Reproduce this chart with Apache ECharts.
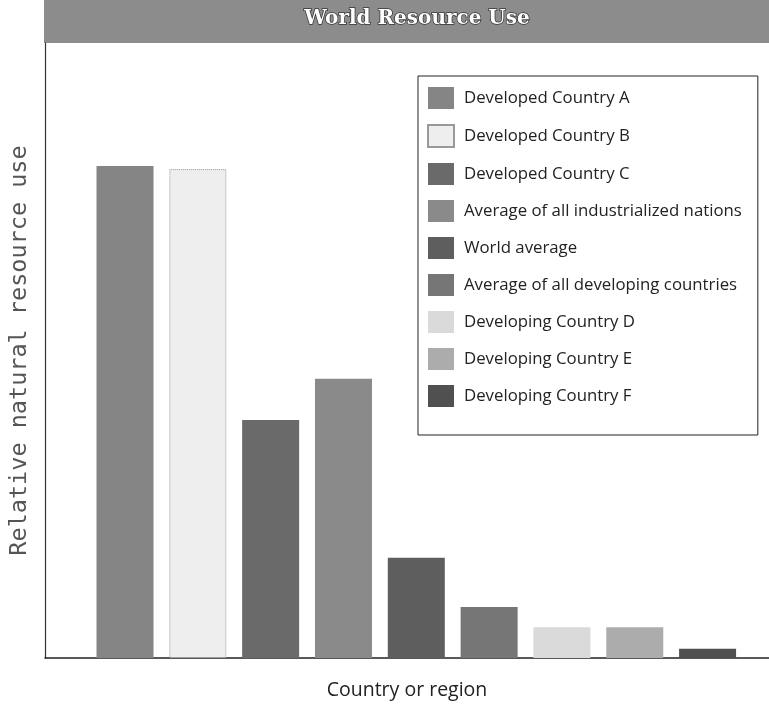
<!DOCTYPE html>
<html>
<head>
<meta charset="utf-8">
<script src="https://cdn.jsdelivr.net/npm/echarts@6/dist/echarts.min.js"></script>
<style>html,body{margin:0;padding:0;background:#fff}#c{width:769px;height:706px}</style>
</head>
<body>
<div id="c"></div>
<script>
const titleText = 'World Resource Use';
const categories = [
  'Developed Country A',
  'Developed Country B',
  'Developed Country C',
  'Average of all industrialized nations',
  'World average',
  'Average of all developing countries',
  'Developing Country D',
  'Developing Country E',
  'Developing Country F'
];
const values = [80, 79.5, 38.7, 45.4, 16.3, 8.3, 5, 5, 1.5];
const yAxisName = 'Relative natural resource use';
const xAxisName = 'Country or region';

const colors = ['#858585', '#eeeeee', '#6a6a6a', '#8a8a8a', '#5e5e5e', '#767676', '#dadada', '#acacac', '#505050'];

const chart = echarts.init(document.getElementById('c'));
const series = categories.map((name, i) => ({
  name: name,
  type: 'bar',
  stack: 'all',
  xAxisIndex: 1,
  yAxisIndex: 1,
  barWidth: 57,
  itemStyle: i === 1
    ? { color: colors[i], borderColor: '#999', borderWidth: 1, borderType: 'dotted' }
    : { color: colors[i] },
  data: categories.map((c, j) => (j === i ? values[i] : '-'))
}));

chart.setOption({
  animation: false,
  graphic: [{
    type: 'rect', z: 0,
    shape: { x: 44, y: 0, width: 725, height: 43 },
    style: { fill: '#8c8c8c' }
  }],
  title: {
    text: titleText,
    left: 412, top: 4, textAlign: 'center',
    textStyle: { color: '#fff', fontWeight: 'bold', fontFamily: 'DejaVu Serif', fontSize: 20,
      textBorderColor: '#333', textBorderWidth: 1.5 }
  },
  grid: [
    { left: 45, right: 0, top: 43, bottom: 48, outerBoundsMode: 'none' },
    { left: 88.6, right: 25, top: 43, bottom: 48, outerBoundsMode: 'none' }
  ],
  xAxis: [
    { gridIndex: 0, type: 'value', min: 0, max: 1,
      axisLine: { show: true, lineStyle: { color: '#222', width: 1.5 } },
      axisTick: { show: false }, axisLabel: { show: false }, splitLine: { show: false },
      name: xAxisName, nameLocation: 'middle', nameGap: 22,
      nameTextStyle: { fontFamily: 'Open Sans', fontSize: 19.5, color: '#222' } },
    { gridIndex: 1, type: 'category', data: categories, show: false }
  ],
  yAxis: [
    { gridIndex: 0, type: 'value', min: 0, max: 1,
      axisLine: { show: true, lineStyle: { color: '#333', width: 1.2 } },
      axisTick: { show: false }, axisLabel: { show: false }, splitLine: { show: false },
      name: yAxisName, nameLocation: 'middle', nameGap: 13,
      nameTextStyle: { fontFamily: 'DejaVu Sans Mono', fontSize: 23.5, color: '#555' } },
    { gridIndex: 1, type: 'value', min: 0, max: 100, show: false }
  ],
  legend: {
    data: categories,
    orient: 'vertical',
    left: 418, top: 76,
    icon: 'rect',
    itemWidth: 26, itemHeight: 22, itemGap: 15,
    padding: [11, 16, 28, 9],
    backgroundColor: '#fff',
    borderColor: '#222', borderWidth: 1,
    textStyle: { fontFamily: 'Open Sans', fontSize: 16.8, color: '#222', padding: [0, 0, 0, 5] }
  },
  series: series
});
</script>
</body>
</html>
